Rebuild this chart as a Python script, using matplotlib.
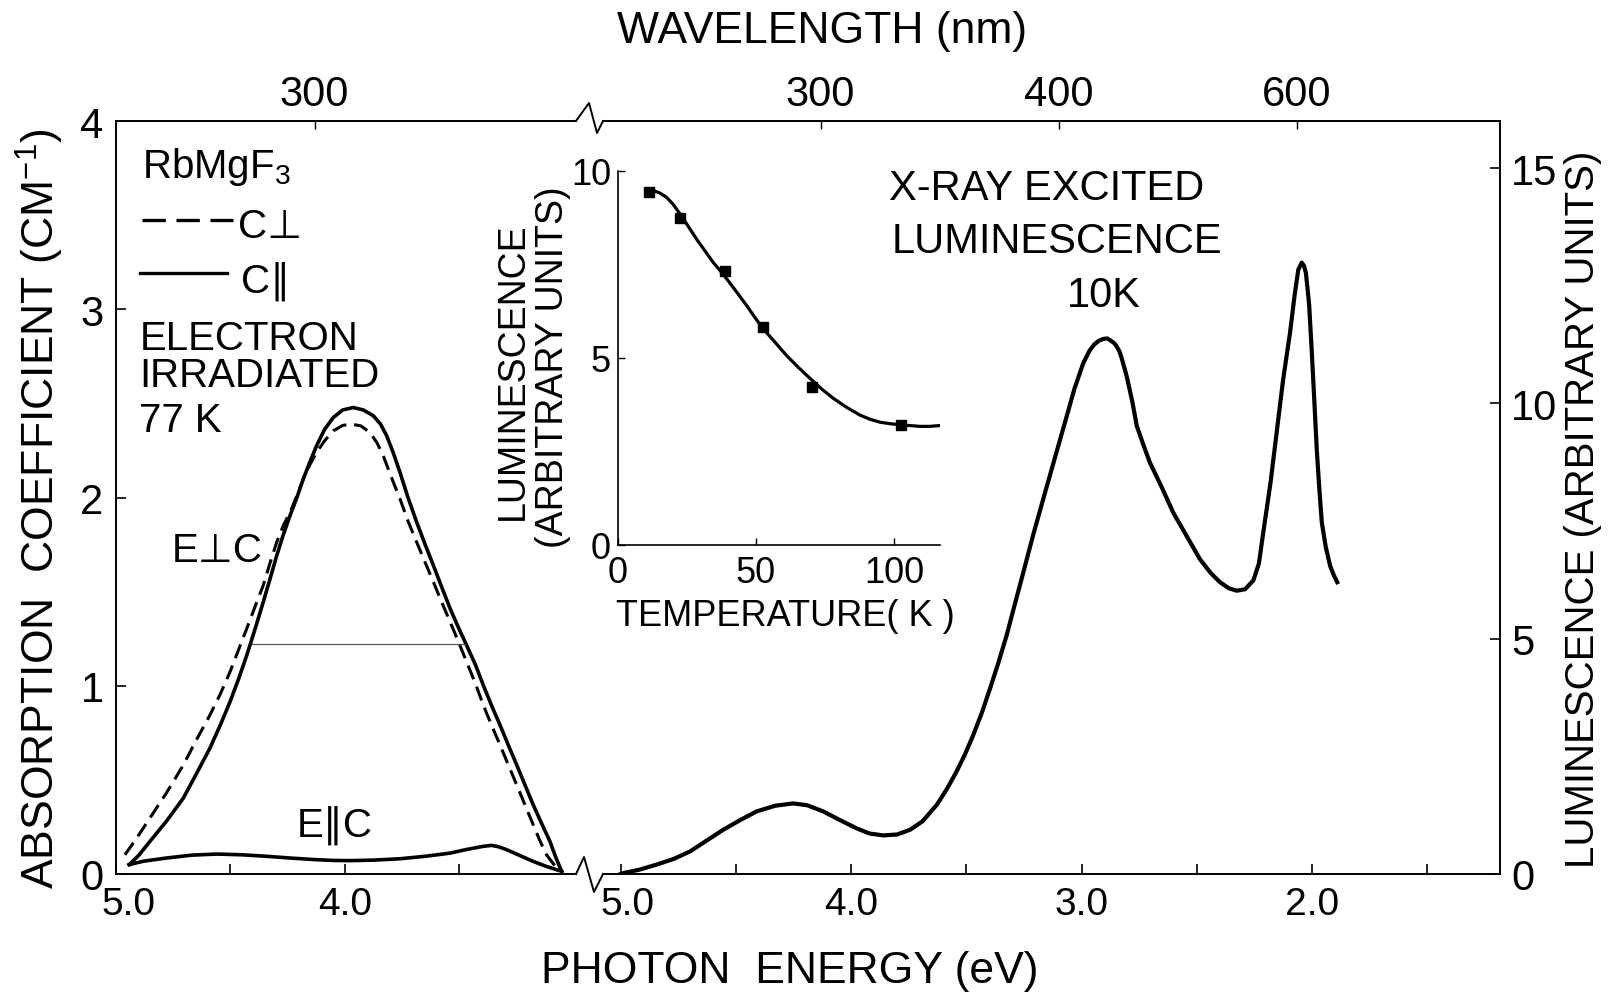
import numpy as np
import matplotlib
matplotlib.use('Agg')
import matplotlib.pyplot as plt
from matplotlib.lines import Line2D
from matplotlib.transforms import ScaledTranslation

plt.rcParams['font.family'] = ['Liberation Sans', 'DejaVu Sans']
plt.rcParams['mathtext.fontset'] = 'custom'
plt.rcParams['mathtext.rm'] = 'Liberation Sans'
plt.rcParams['mathtext.it'] = 'Liberation Sans:italic'
plt.rcParams['mathtext.bf'] = 'Liberation Sans:bold'

# ---------------- data ----------------
# Absorption, left panel: photon energy (eV) vs absorption coefficient (cm^-1)
solid_E = [4.942, 4.90, 4.852, 4.78, 4.706, 4.65, 4.590, 4.545, 4.502, 4.465, 4.429,
           4.393, 4.357, 4.328, 4.298, 4.27, 4.240, 4.21, 4.182, 4.153, 4.124, 4.09,
           4.051, 4.01, 3.964, 3.92, 3.876, 3.845, 3.818, 3.79, 3.760, 3.725, 3.687,
           3.65, 3.614, 3.578, 3.541, 3.505, 3.469, 3.43, 3.396, 3.36, 3.323, 3.287,
           3.250, 3.214, 3.178, 3.14, 3.105, 3.08, 3.054]
solid_a = [0.05, 0.10, 0.173, 0.28, 0.403, 0.53, 0.668, 0.79, 0.915, 1.035, 1.162,
           1.30, 1.445, 1.565, 1.692, 1.80, 1.904, 2.00, 2.099, 2.19, 2.275, 2.36,
           2.425, 2.465, 2.478, 2.465, 2.434, 2.39, 2.328, 2.24, 2.134, 2.00, 1.869,
           1.75, 1.639, 1.525, 1.410, 1.31, 1.215, 1.11, 1.003, 0.895, 0.791, 0.685,
           0.579, 0.473, 0.367, 0.265, 0.173, 0.09, 0.014]

dashed_E = [4.961, 4.91, 4.852, 4.78, 4.706, 4.65, 4.590, 4.545, 4.502, 4.465, 4.429,
            4.393, 4.357, 4.328, 4.298, 4.27, 4.240, 4.21, 4.182, 4.153, 4.124, 4.09,
            4.051, 4.01, 3.971, 3.93, 3.891, 3.86, 3.833, 3.80, 3.760, 3.725, 3.687,
            3.65, 3.614, 3.578, 3.541, 3.505, 3.469, 3.43, 3.396, 3.36, 3.323, 3.287,
            3.250, 3.214, 3.178, 3.15, 3.120, 3.076]
dashed_a = [0.102, 0.19, 0.297, 0.43, 0.579, 0.71, 0.844, 0.955, 1.074, 1.19, 1.304,
            1.42, 1.533, 1.65, 1.763, 1.85, 1.921, 2.01, 2.099, 2.175, 2.240, 2.30,
            2.354, 2.383, 2.390, 2.38, 2.345, 2.29, 2.222, 2.115, 1.993, 1.875, 1.763,
            1.655, 1.551, 1.445, 1.339, 1.235, 1.127, 1.01, 0.897, 0.79, 0.685, 0.58,
            0.473, 0.367, 0.261, 0.18, 0.102, 0.032]

par_E = [4.942, 4.88, 4.779, 4.67, 4.561, 4.45, 4.342, 4.23, 4.124, 4.05, 3.978,
         3.87, 3.760, 3.65, 3.541, 3.47, 3.396, 3.36, 3.33, 3.294, 3.24, 3.178, 3.12, 3.054]
par_a = [0.05, 0.068, 0.085, 0.10, 0.106, 0.102, 0.094, 0.084, 0.076, 0.072, 0.071,
         0.074, 0.081, 0.094, 0.111, 0.13, 0.147, 0.152, 0.145, 0.129, 0.10, 0.067, 0.04, 0.014]

fwhm_E = [4.407, 3.476]
fwhm_a = [1.224, 1.224]

# X-ray excited luminescence, right panel: photon energy (eV) vs luminescence (arb.)
lum_E = [5.0, 4.989, 4.92, 4.844, 4.77, 4.699, 4.63, 4.555, 4.48, 4.410, 4.33, 4.251,
         4.19, 4.121, 4.05, 3.976, 3.92, 3.860, 3.80, 3.744, 3.69, 3.628, 3.585, 3.542,
         3.505, 3.470, 3.433, 3.397, 3.36, 3.325, 3.29, 3.253, 3.21, 3.166, 3.115, 3.064,
         3.03, 2.992, 2.965, 2.945, 2.925, 2.905, 2.888, 2.872, 2.858, 2.847, 2.835,
         2.825, 2.804, 2.78, 2.760, 2.73, 2.703, 2.65, 2.602, 2.54, 2.486, 2.44, 2.399,
         2.36, 2.326, 2.29, 2.254, 2.23, 2.211, 2.18, 2.153, 2.125, 2.095, 2.075, 2.059,
         2.044, 2.034, 2.026, 2.012, 2.001, 1.99, 1.979, 1.968, 1.957, 1.94, 1.921,
         1.905, 1.890]
lum_L = [0.0, 0.02, 0.09, 0.20, 0.32, 0.48, 0.70, 0.94, 1.15, 1.33, 1.45, 1.50,
         1.46, 1.33, 1.15, 0.97, 0.86, 0.82, 0.84, 0.94, 1.12, 1.47, 1.80, 2.18,
         2.55, 2.95, 3.42, 3.94, 4.50, 5.07, 5.72, 6.40, 7.20, 7.97, 8.85, 9.73,
         10.32, 10.86, 11.12, 11.25, 11.33, 11.37, 11.38, 11.33, 11.28, 11.21, 11.10,
         10.95, 10.58, 10.05, 9.52, 9.10, 8.74, 8.20, 7.68, 7.15, 6.69, 6.40, 6.20,
         6.07, 6.02, 6.05, 6.24, 6.60, 7.26, 8.30, 9.38, 10.50, 11.50, 12.30, 12.84,
         12.99, 12.92, 12.77, 12.10, 11.14, 10.10, 9.03, 8.20, 7.47, 6.95, 6.55,
         6.35, 6.20]

# Inset: temperature dependence
temp_pts = [11.2, 22.5, 38.8, 52.7, 70.4, 102.4]
lum_pts = [9.42, 8.74, 7.33, 5.82, 4.21, 3.21]
temp_fit = [10.4, 12.8, 15.0, 17.6, 20.0, 22.5, 25.5, 28.5, 31.5, 34.5, 37.0, 39.4, 43.0,
            46.6, 49.6, 52.7, 57.0, 61.1, 65.3, 69.6, 73.8, 78.0, 82.8, 87.7, 91.3, 95.0,
            98.7, 102.4, 106.0, 109.4, 113.0, 116.4]
lum_fit = [9.47, 9.47, 9.41, 9.29, 9.10, 8.84, 8.51, 8.17, 7.86, 7.55, 7.33, 7.11, 6.76,
           6.40, 6.08, 5.77, 5.41, 5.06, 4.75, 4.45, 4.17, 3.92, 3.68, 3.47, 3.36, 3.28,
           3.24, 3.21, 3.19, 3.17, 3.17, 3.19]

left_xticks = [5.0, 4.5, 4.0, 3.5]
left_xlabels = ['5.0', '', '4.0', '']
right_xticks = [5.0, 4.5, 4.0, 3.5, 3.0, 2.5, 2.0, 1.5]
right_xlabels = ['5.0', '', '4.0', '', '3.0', '', '2.0', '']
left_yticks = [0, 1, 2, 3, 4]
right_yticks = [0, 5, 10, 15]
left_wl_ticks = [300]
right_wl_ticks = [300, 400, 600]
inset_xticks = [0, 50, 100]
inset_yticks = [0, 5, 10]

# ---------------- figure ----------------
W, H = 1612, 995
fig = plt.figure(figsize=(W / 100, H / 100), dpi=100)


def fx(x):
    return x / W


def fy(y):
    return 1 - y / H


def box(x0, x1, ytop, ybot):
    return [fx(x0), fy(ybot), fx(x1) - fx(x0), fy(ytop) - fy(ybot)]


SP = 1.4
ax1 = fig.add_axes(box(116, 576, 122, 875))
ax2 = fig.add_axes(box(603, 1500, 122, 875))
ax1.set_xlim(5.0, 5.0 - 460 / 229)
ax1.set_ylim(0, 4.0)
ax2.set_xlim(5.0 + 17.7 / 230.4, 5.0 - 879.3 / 230.4)
ax2.set_ylim(0, 16)

for ax in (ax1, ax2):
    for s in ax.spines.values():
        s.set_linewidth(SP)
ax1.spines['right'].set_visible(False)
ax2.spines['left'].set_visible(False)

ax1.set_xticks(left_xticks)
ax1.set_xticklabels(left_xlabels)
ax1.set_yticks(left_yticks)
ax1.set_yticklabels([str(v) for v in left_yticks])
ax1.tick_params(axis='both', direction='in', length=7, width=1.2, top=False, right=False)
ax1.tick_params(axis='x', labelsize=28, pad=9)
ax1.tick_params(axis='y', labelsize=30, pad=9)

ax2.set_xticks(right_xticks)
ax2.set_xticklabels(right_xlabels)
ax2.set_yticks(right_yticks)
ax2.set_yticklabels([str(v) for v in right_yticks])
ax2.yaxis.tick_right()
ax2.tick_params(axis='both', direction='in', length=7, width=1.2, top=False, left=False)
ax2.tick_params(axis='x', labelsize=28, pad=9)
ax2.tick_params(axis='y', labelsize=30, pad=8)

# nudge the first "5.0" labels to the right, as in the original lettering
for ax, dx in ((ax1, 12), (ax2, 7)):
    lab = ax.xaxis.get_major_ticks()[0].label1
    lab.set_transform(lab.get_transform() + ScaledTranslation(dx / 100, 0, fig.dpi_scale_trans))


def e2l(e):
    e = np.asarray(e, dtype=float)
    with np.errstate(divide='ignore', invalid='ignore'):
        return 1239.84 / e


for ax, wl in ((ax1, left_wl_ticks), (ax2, right_wl_ticks)):
    sec = ax.secondary_xaxis('top', functions=(e2l, e2l))
    sec.set_xticks(wl)
    sec.set_xticklabels([str(v) for v in wl])
    sec.tick_params(direction='in', length=6, width=1.0, pad=5, labelsize=30)
    sec.spines['top'].set_linewidth(SP)

# curves
ax1.plot(solid_E, solid_a, color='black', lw=2.6, solid_joinstyle='round')
ax1.plot(dashed_E, dashed_a, color='black', lw=2.2, linestyle=(0, (4.8, 2.6)))
ax1.plot(par_E, par_a, color='black', lw=2.6, solid_joinstyle='round')
ax1.plot(fwhm_E, fwhm_a, color='#555555', lw=0.9)
ax2.plot(lum_E, lum_L, color='black', lw=3.0, solid_joinstyle='round')

# legend-like annotations in left panel (pixel placement)
fig.add_artist(Line2D([fx(142), fx(233)], [fy(221), fy(221)], color='black', lw=2.4,
                      linestyle=(0, (7, 3.2))))
fig.add_artist(Line2D([fx(140), fx(227)], [fy(274), fy(274)], color='black', lw=2.4))

txt = dict(ha='left', va='baseline', fontsize=29, color='black')
fig.text(fx(142), fy(178), 'RbMgF$_3$', **txt)
fig.text(fx(238), fy(238), 'C⊥', **txt)
fig.text(fx(241), fy(293), 'C∥', **txt)
fig.text(fx(140), fy(350), 'ELECTRON', **txt)
fig.text(fx(139), fy(387), 'IRRADIATED', **txt)
fig.text(fx(139), fy(432), '77 K', **txt)
fig.text(fx(172), fy(562), 'E⊥C', **txt)
fig.text(fx(297), fy(837), 'E∥C', **txt)

txt2 = dict(ha='left', va='baseline', fontsize=30, color='black')
fig.text(fx(889), fy(200), 'X-RAY EXCITED', **txt2)
fig.text(fx(892), fy(253), 'LUMINESCENCE', **txt2)
fig.text(fx(1067), fy(307), '10K', **txt2)

# axis titles
fig.text(fx(822), fy(32), 'WAVELENGTH (nm)', ha='center', va='center', fontsize=32)
fig.text(fx(790), fy(972), 'PHOTON  ENERGY (eV)', ha='center', va='center', fontsize=32)
fig.text(fx(40), fy(509), 'ABSORPTION  COEFFICIENT (CM$^{-1}$)', ha='center', va='center',
         rotation=90, fontsize=32)
fig.text(fx(1583), fy(509), 'LUMINESCENCE (ARBITRARY UNITS)', ha='center', va='center',
         rotation=90, fontsize=29)

# axis break marks (zig-zags) between the two panels
fig.add_artist(Line2D([fx(576), fx(584), fx(594), fx(603)],
                      [fy(875), fy(858), fy(893), fy(875)], color='black', lw=SP))
fig.add_artist(Line2D([fx(576), fx(589), fx(597), fx(603)],
                      [fy(122), fy(104), fy(134), fy(122)], color='black', lw=SP))

# inset
axi = fig.add_axes(box(618, 940, 171.7, 546))
axi.patch.set_alpha(0)
axi.set_xlim(0, 116.7)
axi.set_ylim(0, 10)
axi.spines['top'].set_visible(False)
axi.spines['right'].set_visible(False)
for s in ('left', 'bottom'):
    axi.spines[s].set_linewidth(1.2)
axi.plot(temp_fit, lum_fit, color='black', lw=2.3, solid_joinstyle='round')
axi.plot(temp_pts, lum_pts, linestyle='none', marker='s', markersize=6.5, color='black')
axi.set_xticks(inset_xticks)
axi.set_xticklabels([str(v) for v in inset_xticks])
axi.set_yticks(inset_yticks)
axi.set_yticklabels([str(v) for v in inset_yticks])
axi.tick_params(direction='in', length=5, width=1.0, labelsize=26)
axi.tick_params(axis='x', pad=7)
axi.tick_params(axis='y', pad=5)
fig.text(fx(785), fy(617), 'TEMPERATURE( K )', ha='center', va='center', fontsize=26)
fig.text(fx(513), fy(371), 'LUMINESCENCE', ha='center', va='center', rotation=90, fontsize=27)
fig.text(fx(553), fy(367), '(ARBITRARY UNITS)', ha='center', va='center', rotation=90,
         fontsize=27)

fig.savefig('out.png', dpi=100)
